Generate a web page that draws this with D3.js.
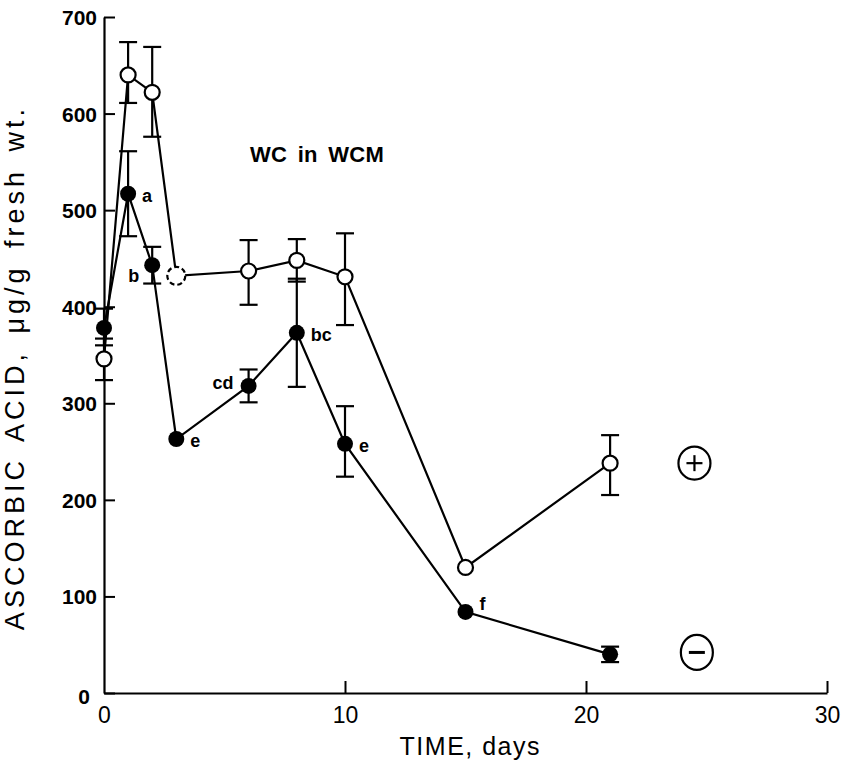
<!DOCTYPE html>
<html>
<head>
<meta charset="utf-8">
<script src="https://cdn.jsdelivr.net/npm/d3@7"></script>
<style>
  body { margin: 0; background: #fff; }
  text { font-family: "Liberation Sans", Arial, sans-serif; fill: #000; }
</style>
</head>
<body>
<div class="chart"></div>
<script>
// sampling days
var days = [0, 1, 2, 3, 6, 8, 10, 15, 21]

// (+) series, open circles
var plusValues = [346, 640, 622, 432, 437, 448, 431, 130, 238]
var plusLow    = [324, 611, 576, null, 402, 426, 381, null, 205]
var plusHigh   = [367, 674, 669, null, 469, 470, 476, null, 267]

// (-) series, filled circles
var minusValues = [378, 517, 443, 263, 318, 373, 258, 84, 40]
var minusLow    = [360, 473, 424, null, 301, 317, 224, null, 32]
var minusHigh   = [398, 561, 462, null, 335, 429, 297, null, 48]
var minusLetters = ['', 'a', 'b', 'e', 'cd', 'bc', 'e', 'f', '']

var xTicks = [0, 10, 20, 30]
var yTicks = [0, 100, 200, 300, 400, 500, 600, 700]

var margin = { top: 17, right: 24, bottom: 81, left: 104 }
var width = 851 - margin.left - margin.right
var height = 774 - margin.top - margin.bottom

var svg = d3.select('.chart')
  .append('svg')
    .attr('width', 851)
    .attr('height', 774)
  .append('g')
    .attr('transform', `translate(${margin.left}, ${margin.top})`)

var xScale = d3.scaleLinear()
  .domain([0, 30])
  .range([0, width])

var yScale = d3.scaleLinear()
  .domain([0, 700])
  .range([height, 0])

// axes: ticks point inward
var yAxis = d3.axisLeft(yScale)
  .tickValues(yTicks)
  .tickSizeInner(-11)
  .tickSizeOuter(0)
  .tickPadding(7)

var xAxis = d3.axisBottom(xScale)
  .tickValues(xTicks)
  .tickSizeInner(-12)
  .tickSizeOuter(0)
  .tickPadding(14)

var gy = svg.append('g').call(yAxis)
var gx = svg.append('g')
  .attr('transform', `translate(0, ${height})`)
  .call(xAxis)

gy.select('.domain').attr('stroke-width', 2.2)
gx.select('.domain').attr('stroke-width', 2.2)
gy.selectAll('.tick line').attr('stroke-width', 2)
gx.selectAll('.tick line').attr('stroke-width', 2)
gy.selectAll('.tick text')
  .attr('font-size', 21)
  .attr('font-weight', 'bold')
  .attr('font-family', '"Liberation Sans", Arial, sans-serif')
  .attr('dy', '0.36em')
gy.selectAll('.tick').filter(d => d === 0).select('text').attr('dx', -7).attr('dy', '0.5em')
gx.selectAll('.tick text')
  .attr('font-size', 23)
  .attr('font-family', '"Liberation Sans Narrow", "Liberation Sans", Arial, sans-serif')
gx.selectAll('.tick').filter(d => d === 0).select('line').remove()

// connecting lines
var line = d3.line()
  .x(d => xScale(d[0]))
  .y(d => yScale(d[1]))

svg.append('path')
  .datum(days.map((d, i) => [d, plusValues[i]]))
  .attr('d', line)
  .attr('fill', 'none')
  .attr('stroke', '#000')
  .attr('stroke-width', 2.2)

svg.append('path')
  .datum(days.map((d, i) => [d, minusValues[i]]))
  .attr('d', line)
  .attr('fill', 'none')
  .attr('stroke', '#000')
  .attr('stroke-width', 2.2)

// error bars
function errorBars(lo, hi) {
  var rows = days.map((d, i) => ({ day: d, lo: lo[i], hi: hi[i] })).filter(r => r.lo != null)
  var g = svg.append('g').attr('stroke', '#000').attr('stroke-width', 2.2)
  g.selectAll('.stem').data(rows).enter().append('line')
    .attr('x1', r => xScale(r.day)).attr('x2', r => xScale(r.day))
    .attr('y1', r => yScale(r.lo)).attr('y2', r => yScale(r.hi))
  g.selectAll('.capLo').data(rows).enter().append('line')
    .attr('x1', r => xScale(r.day) - 9).attr('x2', r => xScale(r.day) + 9)
    .attr('y1', r => yScale(r.lo)).attr('y2', r => yScale(r.lo))
  g.selectAll('.capHi').data(rows).enter().append('line')
    .attr('x1', r => xScale(r.day) - 9).attr('x2', r => xScale(r.day) + 9)
    .attr('y1', r => yScale(r.hi)).attr('y2', r => yScale(r.hi))
}
errorBars(plusLow, plusHigh)
errorBars(minusLow, minusHigh)

// open circles (day 3 drawn dashed)
svg.selectAll('.plus')
  .data(days.map((d, i) => [d, plusValues[i]]))
  .enter().append('circle')
    .attr('cx', d => xScale(d[0]))
    .attr('cy', d => yScale(d[1]))
    .attr('r', d => d[0] === 3 ? 9 : 7.5)
    .attr('fill', '#fff')
    .attr('stroke', '#000')
    .attr('stroke-width', 2.2)
    .attr('stroke-dasharray', d => d[0] === 3 ? '5,3' : null)

// filled circles
svg.selectAll('.minus')
  .data(days.map((d, i) => [d, minusValues[i]]))
  .enter().append('circle')
    .attr('cx', d => xScale(d[0]))
    .attr('cy', d => yScale(d[1]))
    .attr('r', 8)
    .attr('fill', '#000')

// significance letters
var labelOffsets = { b: [-13, 17, 'end'], cd: [-15, 3, 'end'], f: [14, -2, 'start'] }
svg.selectAll('.letter')
  .data(days.map((d, i) => [d, minusValues[i], minusLetters[i]]).filter(d => d[2]))
  .enter().append('text')
    .attr('x', d => xScale(d[0]) + (labelOffsets[d[2]] || [14])[0])
    .attr('y', d => yScale(d[1]) + (labelOffsets[d[2]] || [0, 8])[1])
    .attr('text-anchor', d => (labelOffsets[d[2]] || [0, 0, 'start'])[2])
    .attr('font-size', 18)
    .attr('font-weight', 'bold')
    .text(d => d[2])

// title
svg.append('text')
  .attr('x', 250 - margin.left)
  .attr('y', 162 - margin.top)
  .attr('font-size', 22)
  .attr('font-weight', 'bold')
  .attr('letter-spacing', 0.3)
  .attr('word-spacing', 4)
  .text('WC in WCM')

// legend symbols
var legendG = svg.append('g').attr('stroke', '#000').attr('stroke-width', 2.2).attr('fill', 'none')
legendG.append('ellipse')
  .attr('cx', xScale(24.5)).attr('cy', yScale(238)).attr('rx', 16).attr('ry', 16.5)
legendG.append('line')
  .attr('x1', xScale(24.5) - 8).attr('x2', xScale(24.5) + 8)
  .attr('y1', yScale(238)).attr('y2', yScale(238))
legendG.append('line')
  .attr('x1', xScale(24.5)).attr('x2', xScale(24.5))
  .attr('y1', yScale(238) - 8).attr('y2', yScale(238) + 8)
legendG.append('ellipse')
  .attr('cx', xScale(24.6)).attr('cy', yScale(42)).attr('rx', 16).attr('ry', 17.5)
legendG.append('line')
  .attr('x1', xScale(24.6) - 8).attr('x2', xScale(24.6) + 8)
  .attr('y1', yScale(42)).attr('y2', yScale(42))
  .attr('stroke-width', 3)

// axis titles
svg.append('text')
  .attr('x', xScale(15.2))
  .attr('y', height + 62)
  .attr('text-anchor', 'middle')
  .attr('font-size', 25)
  .attr('font-family', '"Liberation Sans Narrow", "Liberation Sans", Arial, sans-serif')
  .attr('letter-spacing', 1.5)
  .text('TIME, days')

svg.append('text')
  .attr('transform', `translate(${-80}, ${yScale(337)}) rotate(-90)`)
  .attr('text-anchor', 'middle')
  .attr('font-size', 27)
  .attr('letter-spacing', 4)
  .attr('word-spacing', 5)
  .text('ASCORBIC ACID, \u03bcg/g fresh wt.')
</script>
</body>
</html>
